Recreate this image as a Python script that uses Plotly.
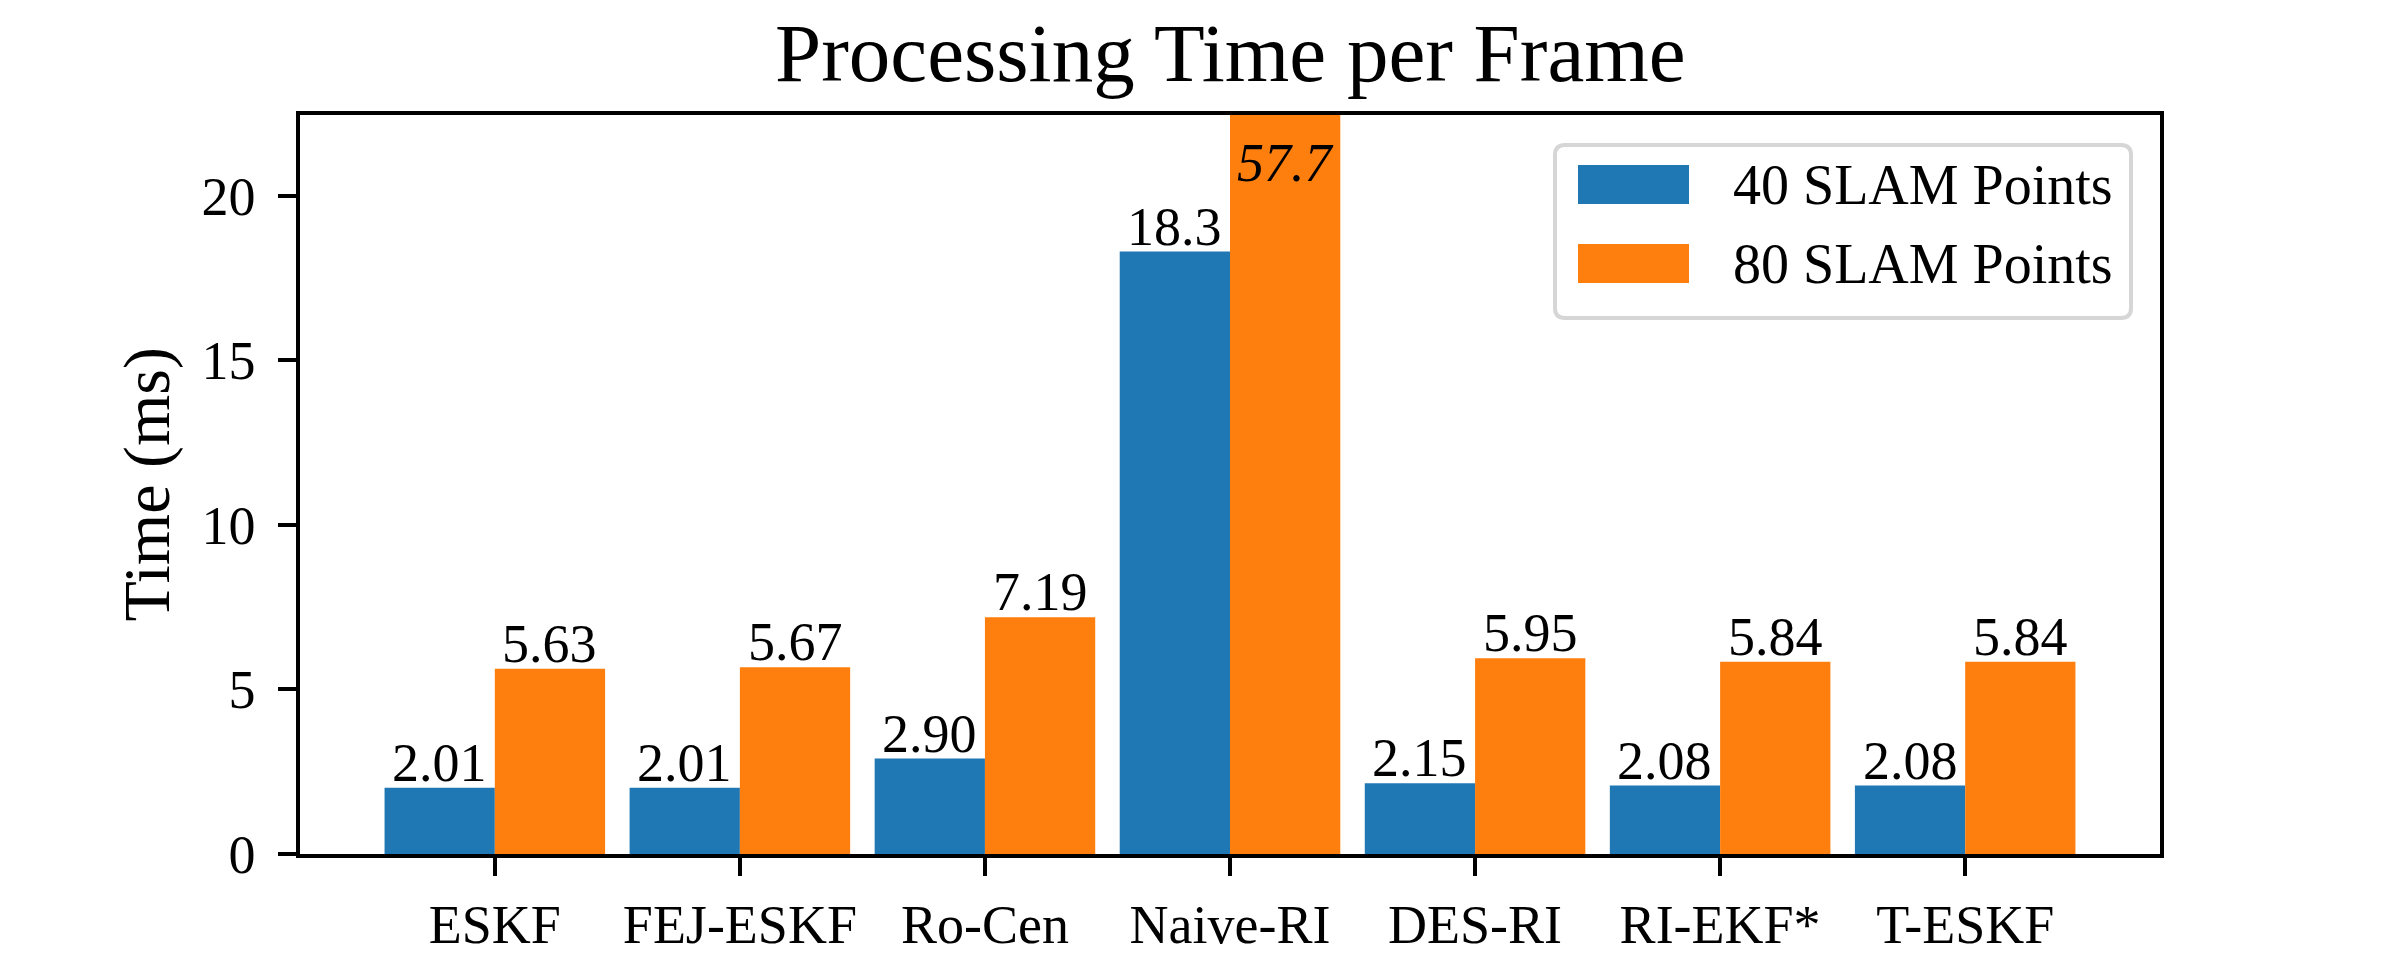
import plotly.graph_objects as go

# ---------------- data ----------------
methods = ["ESKF", "FEJ-ESKF", "Ro-Cen", "Naive-RI", "DES-RI", "RI-EKF*", "T-ESKF"]
time_40 = [2.01, 2.01, 2.90, 18.3, 2.15, 2.08, 2.08]
time_80 = [5.63, 5.67, 7.19, 57.7, 5.95, 5.84, 5.84]
series_names = ["40 SLAM Points", "80 SLAM Points"]
y_ticks = [0, 5, 10, 15, 20]
title_text = "Processing Time per Frame"
y_title = "Time (ms)"

# ---------------- style ----------------
BLUE = "#1f77b4"
ORANGE = "#ff7f0e"
FONT = "Times New Roman, Liberation Serif, serif"
OFF = 8                      # page body margin of the html page (each side)
W, H = 2400 - 2 * OFF, 960 - 2 * OFF
# plot area, in page pixels of the target picture
PL, PR, PT, PB = 300, 2160, 115, 854
L, R, T, B = PL - OFF, PR - OFF, PT - OFF, PB - OFF
YMAX = 22.45


def px2x(px):
    """page pixel x -> paper x"""
    return (px - PL) / (PR - PL)


def py2y(py):
    """page pixel y -> paper y"""
    return (PB - py) / (PB - PT)


def fmt(v):
    return f"{v:.2f}" if v < 10 else f"{v:.1f}"


fig = go.Figure()
fig.add_trace(go.Bar(x=methods, y=time_40, name=series_names[0],
                     marker=dict(color=BLUE, line=dict(width=0))))
fig.add_trace(go.Bar(x=methods, y=time_80, name=series_names[1],
                     marker=dict(color=ORANGE, line=dict(width=0))))

annotations = []
off = 0.225
for i, (a, b) in enumerate(zip(time_40, time_80)):
    for v, dx in ((a, -off), (b, off)):
        if v <= YMAX:
            annotations.append(dict(x=i + dx, y=v, xref="x", yref="y", text=fmt(v),
                                    showarrow=False, yanchor="bottom", xanchor="center",
                                    yshift=-7, font=dict(family=FONT, size=54, color="black")))
        else:
            annotations.append(dict(x=i + dx, y=21.0, xref="x", yref="y",
                                    text="<i>" + fmt(v) + "</i>",
                                    showarrow=False, yanchor="middle", xanchor="center",
                                    font=dict(family=FONT, size=54, color="black")))

# title
annotations.append(dict(x=0.5, y=py2y(53), xref="paper", yref="paper", text=title_text,
                        showarrow=False, xanchor="center", yanchor="middle",
                        font=dict(family=FONT, size=83, color="black")))
# y label
annotations.append(dict(x=px2x(146), y=0.5, xref="paper", yref="paper", text=y_title,
                        showarrow=False, xanchor="center", yanchor="middle", textangle=-90,
                        font=dict(family=FONT, size=66, color="black")))

# manual legend
shapes = []
lx0, lx1, ly0, ly1, rad = 1555, 2131, 145, 318, 10
path = (f"M {px2x(lx0 + rad)},{py2y(ly0)} L {px2x(lx1 - rad)},{py2y(ly0)} "
        f"Q {px2x(lx1)},{py2y(ly0)} {px2x(lx1)},{py2y(ly0 + rad)} "
        f"L {px2x(lx1)},{py2y(ly1 - rad)} Q {px2x(lx1)},{py2y(ly1)} {px2x(lx1 - rad)},{py2y(ly1)} "
        f"L {px2x(lx0 + rad)},{py2y(ly1)} Q {px2x(lx0)},{py2y(ly1)} {px2x(lx0)},{py2y(ly1 - rad)} "
        f"L {px2x(lx0)},{py2y(ly0 + rad)} Q {px2x(lx0)},{py2y(ly0)} {px2x(lx0 + rad)},{py2y(ly0)} Z")
shapes.append(dict(type="path", path=path, xref="paper", yref="paper",
                   line=dict(color="#d6d6d6", width=4), fillcolor="rgba(255,255,255,0.8)",
                   layer="above"))
rows = [(165, 204, BLUE, series_names[0], 184.5), (244, 283, ORANGE, series_names[1], 263.5)]
for y0, y1, col, name, ty in rows:
    shapes.append(dict(type="rect", xref="paper", yref="paper",
                       x0=px2x(1578), x1=px2x(1689), y0=py2y(y1), y1=py2y(y0),
                       line=dict(width=0), fillcolor=col, layer="above"))
    annotations.append(dict(x=px2x(1731), y=py2y(ty), xref="paper", yref="paper", text=name,
                            showarrow=False, xanchor="left", yanchor="middle",
                            font=dict(family=FONT, size=56, color="black")))

fig.update_layout(
    width=W, height=H,
    margin=dict(l=L, r=W - R, t=T, b=H - B, pad=0, autoexpand=False),
    paper_bgcolor="white", plot_bgcolor="white",
    barmode="group", bargap=0.1, bargroupgap=0,
    showlegend=False,
    font=dict(family=FONT, size=54, color="black"),
    annotations=annotations, shapes=shapes,
)
fig.update_xaxes(range=[-0.795, 6.795], showline=True, linecolor="black", linewidth=3.6,
                 mirror=True, ticks="outside", ticklen=18, tickwidth=3.6, tickcolor="black",
                 showgrid=False, zeroline=False, ticklabelstandoff=2, automargin=False,
                 tickfont=dict(family=FONT, size=54, color="black"))
fig.update_yaxes(range=[0, YMAX], showline=True, linecolor="black", linewidth=3.6,
                 mirror=True, ticks="outside", ticklen=18, tickwidth=3.6, tickcolor="black",
                 showgrid=False, zeroline=False, tickvals=y_ticks, ticklabelstandoff=12,
                 automargin=False,
                 tickfont=dict(family=FONT, size=54, color="black"))

fig.write_html("out.html")
